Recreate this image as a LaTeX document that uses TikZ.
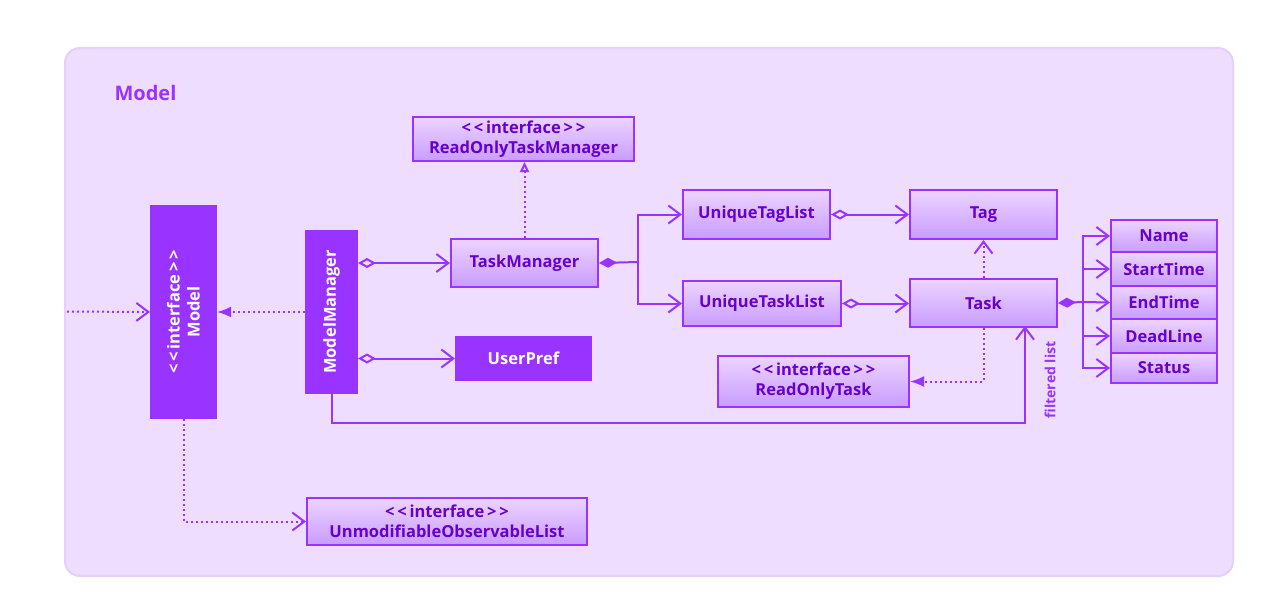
\documentclass[tikz,border=0pt]{standalone}
\usepackage{fontspec}
\setmainfont{Open Sans}
\usetikzlibrary{arrows.meta,calc,shadings}
\definecolor{pan}{RGB}{238,221,255}
\definecolor{panb}{RGB}{230,206,255}
\definecolor{vio}{RGB}{153,51,255}
\definecolor{txt}{RGB}{102,0,204}
\definecolor{gtop}{RGB}{236,212,255}
\definecolor{gbot}{RGB}{201,156,255}
\newcommand{\iface}{<\,<\,interface\,>\,>}
\tikzset{
  bfont/.style={font=\fontsize{16.5}{20}\selectfont\bfseries},
  cls/.style={draw=vio, line width=2pt, top color=gtop, bottom color=gbot, text=txt,
    bfont, anchor=north west, inner sep=0pt, align=center},
  solidcls/.style={draw=vio, fill=vio, text=white, line width=1pt,
    bfont, anchor=north west, inner sep=0pt, align=center},
  conn/.style={draw=vio, line width=2pt},
  dotline/.style={conn, dash pattern=on 2pt off 3pt},
  openarr/.style={-{Straight Barb[length=12pt,width=18pt,line width=2pt]}},
  filltri/.style={-{Latex[length=14pt,width=11pt]}},
  hollowtri/.style={-{Triangle[open,length=10pt,width=9pt,line width=2pt]}},
  aggr/.style={{Diamond[open,length=18pt,width=10pt,line width=2pt]}-{Straight Barb[length=12pt,width=18pt,line width=2pt]}},
  compo/.style={{Diamond[length=18pt,width=10pt]}-},
}
\begin{document}
\begin{tikzpicture}[x=1pt,y=-1pt]
\useasboundingbox (0,0) rectangle (1266,608);
\draw[fill=pan, draw=panb, line width=2pt, rounded corners=15pt] (65,48) rectangle (1233,576);
\node[anchor=west, text=vio, font=\fontsize{20}{24}\selectfont\bfseries] (title) at (111,93) {Model};

% nodes
\node[cls, minimum width=221pt, minimum height=44pt] (rotm) at (412,116) {\iface\\ReadOnlyTaskManager};
\node[cls, minimum width=147pt, minimum height=48pt] (tm) at (450,238) {TaskManager};
\node[solidcls, minimum width=66pt, minimum height=213pt] (model) at (150,205) {};
\node[text=white, bfont, rotate=90, align=center] (modeltxt) at (model.center) {\iface\\Model};
\node[solidcls, minimum width=52pt, minimum height=163pt] (mm) at (305,230) {};
\node[text=white, bfont, rotate=90] (mmtxt) at (mm.center) {ModelManager};
\node[solidcls, minimum width=136pt, minimum height=44pt] (up) at (455,336) {UserPref};
\node[cls, minimum width=147pt, minimum height=49pt] (utl) at (682,189) {UniqueTagList};
\node[cls, minimum width=147pt, minimum height=49pt] (tag) at (909,189) {Tag};
\node[cls, minimum width=158pt, minimum height=45pt] (utkl) at (682,280) {UniqueTaskList};
\node[cls, minimum width=147pt, minimum height=48pt] (task) at (909,278) {Task};
\node[cls, minimum width=191pt, minimum height=51pt] (rot) at (717,355) {\iface\\ReadOnlyTask};
\node[cls, minimum width=106pt, minimum height=32pt] (name) at (1110,219) {Name};
\node[cls, minimum width=106pt, minimum height=34pt] (start) at (1110,251) {StartTime};
\node[cls, minimum width=106pt, minimum height=33pt] (end) at (1110,285) {EndTime};
\node[cls, minimum width=106pt, minimum height=34pt] (dead) at (1110,318) {DeadLine};
\node[cls, minimum width=106pt, minimum height=30pt] (status) at (1110,352) {Status};
\node[cls, minimum width=280pt, minimum height=47pt] (uol) at (306,497) {\iface\\UnmodifiableObservableList};

% coordinates
\coordinate (ext) at (67,311.5);
\coordinate (fl) at (1025,326);
\coordinate (flc) at (1025,423);
\coordinate (j1) at (638,262);
\coordinate (j2) at (1083,302);

% connectors
\draw[dotline, openarr] (ext) -- (model.west);
\draw[dotline, filltri] (mm.west) -- (mm.west -| model.east);
\draw[conn, aggr] (tm.west -| mm.east) -- (tm.west);
\draw[conn, aggr] (up.west -| mm.east) -- (up.west);
\draw[conn, openarr] (mm.south) |- (flc) -- (fl);
\node[text=vio, font=\fontsize{14}{16}\selectfont\bfseries, rotate=90] (fltxt) at (1050,380) {filtered list};
\draw[dotline, hollowtri] (tm.north) -- (tm.north |- rotm.south);
\draw[conn, compo] (tm.east) -- (j1);
\draw[conn, openarr] (j1) |- (utl.west);
\draw[conn, openarr] (j1) |- (utkl.west);
\draw[conn, aggr] (utl.east) -- (tag.west);
\draw[conn, aggr] (utkl.east) -- (utkl.east -| task.west);
\draw[dotline, openarr] (task.north) -- (tag.south);
\draw[dotline, filltri] (task.south) |- (rot.east);
\draw[conn, compo] (task.east) -- (j2);
\draw[conn, openarr] (j2) |- (name.west);
\draw[conn, openarr] (j2) |- (start.west);
\draw[conn, openarr] (j2) -- (end.west);
\draw[conn, openarr] (j2) |- (dead.west);
\draw[conn, openarr] (j2) |- (status.west);
\draw[dotline, openarr] (model.south) |- (uol.west);
\end{tikzpicture}
\end{document}
